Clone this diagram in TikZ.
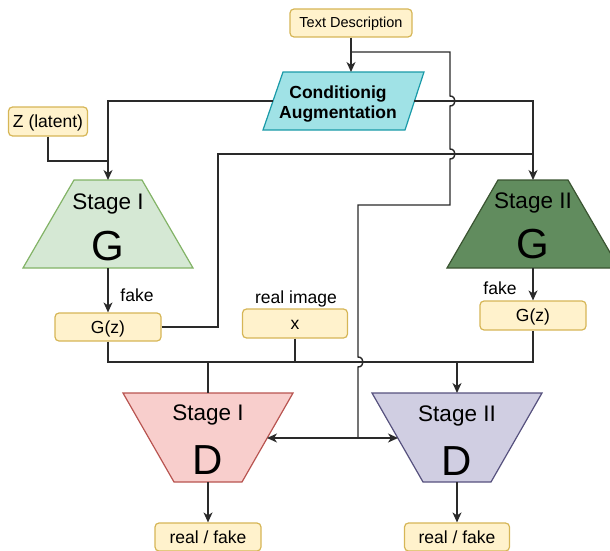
\documentclass[tikz,border=0pt]{standalone}
\usepackage{fontspec}
\setmainfont{Liberation Sans}
\usetikzlibrary{arrows.meta}
\definecolor{ylwF}{HTML}{FFF2CC}
\definecolor{ylwD}{HTML}{D6B656}
\definecolor{lgF}{HTML}{D5E8D4}
\definecolor{lgD}{HTML}{82B366}
\definecolor{dgF}{HTML}{618C5E}
\definecolor{dgD}{HTML}{3A5431}
\definecolor{cyF}{HTML}{A0E2E6}
\definecolor{cyD}{HTML}{1A9AA8}
\definecolor{pkF}{HTML}{F8CECC}
\definecolor{pkD}{HTML}{B85450}
\definecolor{lvF}{HTML}{D0CEE2}
\definecolor{lvD}{HTML}{56517E}
\definecolor{lineC}{HTML}{2A2A2A}
\begin{document}
\begin{tikzpicture}[x=1pt,y=-1pt,
  conn/.style={draw=lineC, line width=1.4pt},
  arr/.style={conn, -{Stealth[length=10pt,width=9pt,inset=3pt]}},
  ybox/.style={draw=ylwD, fill=ylwF, rounded corners=4pt, line width=1.2pt,
    minimum height=28pt, inner sep=0pt, text height=15.8pt, text depth=3.7pt,
    font=\fontsize{17.5}{20}\selectfont},
  lbl/.style={font=\fontsize{17.5}{20}\selectfont, inner sep=0pt, anchor=base},
  big/.style={font=\fontsize{42}{44}\selectfont, inner sep=0pt, anchor=base},
  stg/.style={font=\fontsize{22.5}{24}\selectfont, inner sep=0pt, anchor=base},
  shp/.style={line width=1.2pt},
]
\useasboundingbox (0,0) rectangle (610,551);

% ---------- shapes ----------
% Conditioning augmentation (parallelogram)
\draw[shp, draw=cyD, fill=cyF] (283,72) -- (424,72) -- (405,130) -- (263,130) -- cycle;
\coordinate (caT) at (351,72);
\coordinate (caL) at (273,101);
\coordinate (caR) at (414,101);
\node[font=\bfseries\fontsize{17.5}{20.7}\selectfont, align=center, inner sep=0pt] (ca) at (338,104) {Conditionig\\Augmentation};

% Stage I G
\draw[shp, draw=lgD, fill=lgF] (74,180) -- (142,180) -- (193,268) -- (23,268) -- cycle;
\coordinate (g1T) at (108,180);
\coordinate (g1B) at (108,268);
\node[stg] (g1s) at (108,209) {Stage I};
\node[big] (g1g) at (108,260) {G};

% Stage II G
\draw[shp, draw=dgD, fill=dgF] (498,180) -- (568,180) -- (619,268) -- (447,268) -- cycle;
\coordinate (g2T) at (533,180);
\coordinate (g2B) at (533,268);
\node[stg] (g2s) at (533,208) {Stage II};
\node[big] (g2g) at (533,258) {G};

% Stage I D
\draw[shp, draw=pkD, fill=pkF] (123,393) -- (293,393) -- (242,482) -- (174,482) -- cycle;
\coordinate (d1T) at (208,393);
\coordinate (d1B) at (208,482);
\coordinate (d1R) at (267,438);
\node[stg] (d1s) at (208,420) {Stage I};
\node[big] (d1d) at (208,474) {D};

% Stage II D
\draw[shp, draw=lvD, fill=lvF] (372,393) -- (542,393) -- (491,482) -- (423,482) -- cycle;
\coordinate (d2T) at (457,393);
\coordinate (d2B) at (457,482);
\coordinate (d2L) at (398,438);
\node[stg] (d2s) at (457,421) {Stage II};
\node[big] (d2d) at (457,475) {D};

% ---------- boxes ----------
\node[ybox, minimum width=122pt, text height=13.1pt, text depth=3.1pt,
      font=\fontsize{14.5}{16}\selectfont] (td) at (351,23) {Text Description};
\node[ybox, minimum width=79pt, minimum height=29pt] (z) at (48,121.5) {Z (latent)};
\node[ybox, minimum width=106pt] (gz1) at (108,327) {G(z)};
\node[ybox, minimum width=105pt, minimum height=29pt] (xr) at (295,323.5) {x};
\node[ybox, minimum width=106pt, minimum height=29pt] (gz2) at (533,315.5) {G(z)};
\node[ybox, minimum width=106pt] (rf1) at (208,537) {real / fake};
\node[ybox, minimum width=105pt] (rf2) at (457,537) {real / fake};

% labels
\node[lbl] (fk1) at (137,301) {fake};
\node[lbl] (fk2) at (500,294) {fake};
\node[lbl] (ri) at (296,303) {real image};

% ---------- connectors ----------
\coordinate (tdj) at (351,52);
\coordinate (hub) at (358,438);
\coordinate (zj) at (108,161);
\coordinate (g2j) at (533,154);
\coordinate (m1) at (295,362);
\coordinate (b1) at (208,362);
\coordinate (b2) at (457,362);

\draw[arr] (td.south) -- (caT);
\draw[conn] (tdj) -- (450,52) -- (450,96)
   .. controls (456.7,96) and (456.7,106) .. (450,106) -- (450,149)
   .. controls (456.7,149) and (456.7,159) .. (450,159) -- (450,205)
   -- (358,205) -- (358,357)
   .. controls (364.7,357) and (364.7,367) .. (358,367) -- (hub);
\draw[arr] (hub) -- (d1R);
\draw[arr] (hub) -- (d2L);

\draw[arr] (caL) -| (g1T);
\draw[arr] (caR) -| (g2T);
\draw[conn] (z.south) |- (zj);
\draw[conn] (gz1.east) -- (218,327) |- (g2j);

\draw[arr] (g1B) -- (gz1.north);
\draw[arr] (g2B) -- (gz2.north);

\draw[conn] (gz1.south) |- (m1);
\draw[conn] (xr.south) -- (m1) -| (gz2.south);
\draw[conn] (b1) -- (d1T);
\draw[arr] (b2) -- (d2T);

\draw[arr] (d1B) -- (rf1.north);
\draw[arr] (d2B) -- (rf2.north);
\end{tikzpicture}
\end{document}
